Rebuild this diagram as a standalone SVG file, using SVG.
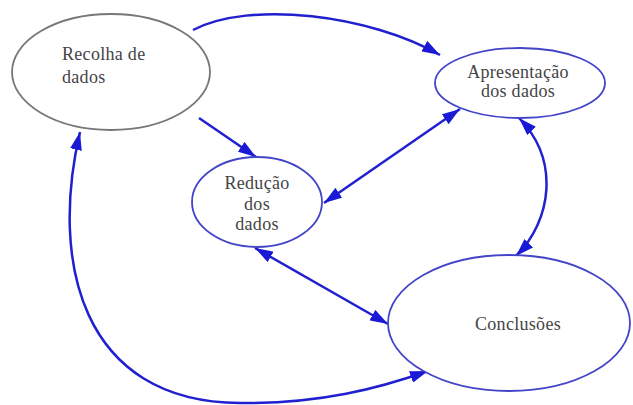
<svg xmlns="http://www.w3.org/2000/svg" width="633" height="405" viewBox="0 0 633 405">
<defs>
<marker id="ah" markerUnits="userSpaceOnUse" markerWidth="20" markerHeight="12" refX="18" refY="6" orient="auto-start-reverse">
<path d="M0,0 L18,6 L0,12 z" fill="#1a1ad6"/>
</marker>
</defs>
<style>
.node{fill:#fff;stroke:#4444c8;stroke-width:1.8}
.gray{stroke:#777}
.lbl{font-family:"Liberation Serif","Times New Roman",serif;font-size:18px;fill:#444;letter-spacing:0.3px}
.edge{fill:none;stroke:#2020d0;stroke-width:2.5}
</style>
<rect width="633" height="405" fill="#fff"/>
<g id="connectors">
<path class="edge" d="M193,30 C250,0 370,15 440,55" marker-end="url(#ah)"/>
<path class="edge" d="M199,118 L256,157" marker-end="url(#ah)"/>
<path class="edge" d="M460,109 L324,203" marker-start="url(#ah)" marker-end="url(#ah)"/>
<path class="edge" d="M255,248 L388,324" marker-start="url(#ah)" marker-end="url(#ah)"/>
<path class="edge" d="M519,118 C560,160 552,220 516,256" marker-start="url(#ah)" marker-end="url(#ah)"/>
<path class="edge" d="M80,132 C50,260 80,402 240,403 C320,404 380,388 428,371" marker-start="url(#ah)" marker-end="url(#ah)"/>
</g>
<g id="recolha">
<ellipse class="node gray" cx="111" cy="72" rx="99" ry="58"/>
<text class="lbl" x="62" y="60" fill="#4a3c3c">Recolha de</text>
<text class="lbl" x="62" y="83">dados</text>
</g>
<g id="apresentacao">
<ellipse class="node" cx="520" cy="83" rx="85" ry="35"/>
<text class="lbl" x="518" y="78" text-anchor="middle">Apresentação</text>
<text class="lbl" x="518" y="97" text-anchor="middle">dos dados</text>
</g>
<g id="reducao">
<ellipse class="node" cx="257" cy="202" rx="65" ry="45"/>
<text class="lbl" x="257" y="189" text-anchor="middle">Redução</text>
<text class="lbl" x="257" y="210" text-anchor="middle">dos</text>
<text class="lbl" x="257" y="230" text-anchor="middle">dados</text>
</g>
<g id="conclusoes">
<ellipse class="node" cx="509" cy="323" rx="121" ry="68"/>
<text class="lbl" x="518" y="330" text-anchor="middle">Conclusões</text>
</g>
</svg>
